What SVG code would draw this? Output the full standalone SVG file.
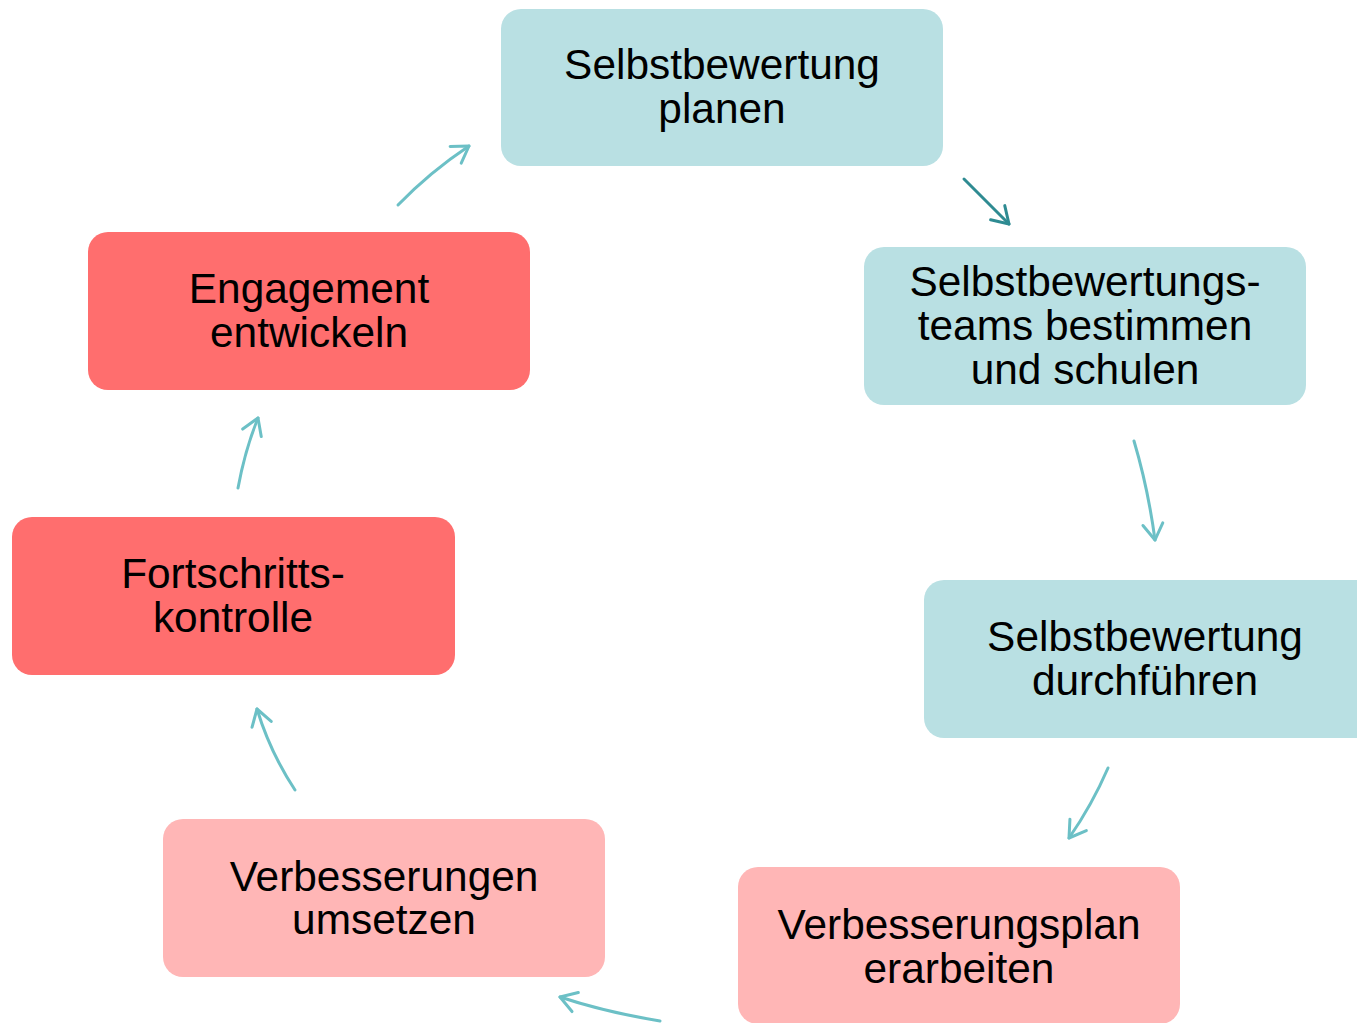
<svg xmlns="http://www.w3.org/2000/svg" width="1357" height="1023" viewBox="0 0 1357 1023">
<style>
.box{stroke:none}
.blue{fill:#b9e0e3}
.red{fill:#ff6e6e}
.pink{fill:#ffb6b6}
text{font-family:"Liberation Sans",Arial,sans-serif;font-size:42.4px;fill:#000;text-anchor:middle}
.c{fill:none;stroke:#6cc0c6;stroke-width:3;stroke-linecap:round}
.cd{fill:none;stroke:#2e8b92;stroke-width:3;stroke-linecap:round}
</style>
<defs>
<marker id="ah" markerUnits="userSpaceOnUse" markerWidth="30" markerHeight="30" viewBox="-20 -15 30 30" refX="0" refY="0" orient="auto">
<path d="M -16 -10 L 0 0 L -16 10" fill="none" stroke="#6cc0c6" stroke-width="3" stroke-linecap="round" stroke-linejoin="round"/>
</marker>
<marker id="ahd" markerUnits="userSpaceOnUse" markerWidth="30" markerHeight="30" viewBox="-20 -15 30 30" refX="0" refY="0" orient="auto">
<path d="M -16 -10 L 0 0 L -16 10" fill="none" stroke="#2e8b92" stroke-width="3" stroke-linecap="round" stroke-linejoin="round"/>
</marker>
</defs>
<rect width="1357" height="1023" fill="#fff"/>
<g id="n1"><rect class="box blue" x="501" y="9" width="442" height="157" rx="20"/><text x="722" y="79">Selbstbewertung</text><text x="722" y="123">planen</text></g>
<g id="n2"><rect class="box blue" x="864" y="247" width="442" height="158" rx="20"/><text x="1085" y="296">Selbstbewertungs-</text><text x="1085" y="340">teams bestimmen</text><text x="1085" y="384">und schulen</text></g>
<g id="n3"><rect class="box blue" x="924" y="580" width="453" height="158" rx="20"/><text x="1145" y="651">Selbstbewertung</text><text x="1145" y="695">durchführen</text></g>
<g id="n4"><rect class="box pink" x="738" y="867" width="442" height="157" rx="20"/><text x="959" y="939">Verbesserungsplan</text><text x="959" y="983">erarbeiten</text></g>
<g id="n5"><rect class="box pink" x="163" y="819" width="442" height="158" rx="20"/><text x="384" y="891">Verbesserungen</text><text x="384" y="934">umsetzen</text></g>
<g id="n6"><rect class="box red" x="12" y="517" width="443" height="158" rx="20"/><text x="233" y="588">Fortschritts-</text><text x="233" y="632">kontrolle</text></g>
<g id="n7"><rect class="box red" x="88" y="232" width="442" height="158" rx="20"/><text x="309" y="303">Engagement</text><text x="309" y="347">entwickeln</text></g>
<g id="connectors">
<path class="cd" d="M 964 179 L 1009 224" marker-end="url(#ahd)"/>
<path class="c" d="M 1134 441 Q 1148 488 1155 540" marker-end="url(#ah)"/>
<path class="c" d="M 1108 768 Q 1092 805 1069 838" marker-end="url(#ah)"/>
<path class="c" d="M 660 1021 Q 605 1012 560 997" marker-end="url(#ah)"/>
<path class="c" d="M 295 790 Q 270 752 257 709" marker-end="url(#ah)"/>
<path class="c" d="M 238 488 Q 245 450 258 418" marker-end="url(#ah)"/>
<path class="c" d="M 398 205 Q 430 172 469 146" marker-end="url(#ah)"/>
</g>
</svg>
